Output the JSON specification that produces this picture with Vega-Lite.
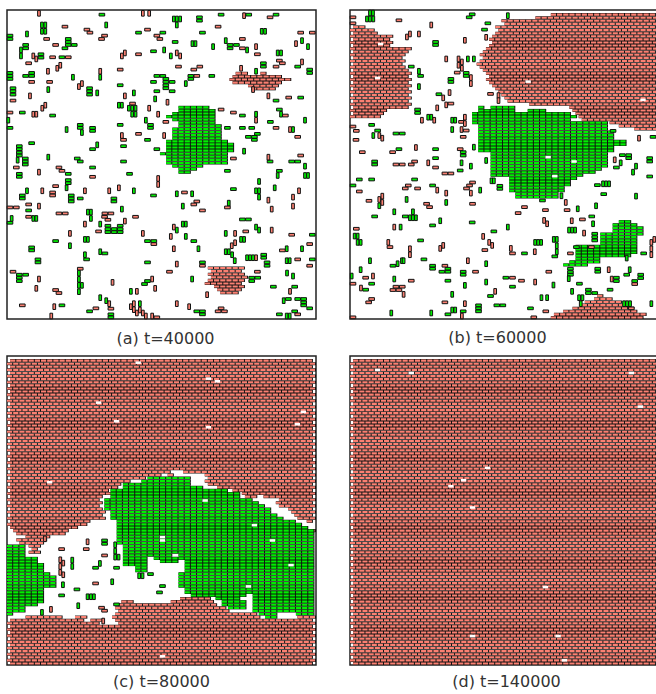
{"$schema":"https://vega.github.io/schema/vega-lite/v6.json","padding":{"left":4,"top":8,"right":0,"bottom":0},"background":"white","spacing":{"row":6,"column":28},"columns":2,"config":{"view":{"stroke":"#222","strokeWidth":1.5},"title":{"font":"DejaVu Sans","fontSize":16,"fontWeight":"normal","color":"#333","orient":"bottom"}},
"datasets":{
"aRr":[{"y":20,"a":74,"b":78},{"y":20,"a":82,"b":84},{"y":21,"a":73,"b":89},{"y":22,"a":72,"b":92},{"y":23,"a":73,"b":89},{"y":24,"a":78,"b":88},{"y":25,"a":79,"b":87},{"y":83,"a":65,"b":77},{"y":84,"a":66,"b":76},{"y":85,"a":65,"b":77},{"y":86,"a":66,"b":78},{"y":87,"a":65,"b":77},{"y":88,"a":64,"b":76},{"y":89,"a":67,"b":77},{"y":90,"a":68,"b":76},{"y":91,"a":69,"b":75}],
"aGr":[{"y":31,"a":55.5,"b":65.5},{"y":32,"a":55.5,"b":67.5},{"y":33,"a":53.5,"b":67.5},{"y":34,"a":51.5,"b":67.5},{"y":35,"a":53.5,"b":67.5},{"y":36,"a":55.5,"b":67.5},{"y":37,"a":55.5,"b":69.5},{"y":38,"a":53.5,"b":69.5},{"y":39,"a":53.5,"b":69.5},{"y":40,"a":53.5,"b":69.5},{"y":41,"a":53.5,"b":69.5},{"y":42,"a":51.5,"b":71.5},{"y":43,"a":51.5,"b":73.5},{"y":44,"a":51.5,"b":73.5},{"y":45,"a":51.5,"b":73.5},{"y":46,"a":49.5,"b":71.5},{"y":47,"a":51.5,"b":71.5},{"y":48,"a":51.5,"b":71.5},{"y":49,"a":51.5,"b":71.5},{"y":50,"a":53.5,"b":63.5},{"y":51,"a":55.5,"b":61.5},{"y":52,"a":55.5,"b":59.5}],
"bRr":[{"y":5,"a":1,"b":5},{"y":6,"a":0,"b":8},{"y":7,"a":1,"b":9},{"y":8,"a":0,"b":14},{"y":9,"a":1,"b":13},{"y":10,"a":0,"b":14},{"y":11,"a":1,"b":13},{"y":12,"a":0,"b":20},{"y":13,"a":1,"b":19},{"y":14,"a":0,"b":18},{"y":15,"a":1,"b":17},{"y":16,"a":0,"b":18},{"y":17,"a":1,"b":17},{"y":18,"a":0,"b":18},{"y":19,"a":1,"b":19},{"y":20,"a":0,"b":20},{"y":21,"a":1,"b":19},{"y":22,"a":0,"b":20},{"y":23,"a":1,"b":19},{"y":24,"a":0,"b":20},{"y":25,"a":1,"b":19},{"y":26,"a":0,"b":20},{"y":27,"a":1,"b":19},{"y":28,"a":0,"b":20},{"y":29,"a":1,"b":19},{"y":30,"a":0,"b":20},{"y":31,"a":1,"b":19},{"y":32,"a":0,"b":12},{"y":33,"a":1,"b":11},{"y":34,"a":0,"b":10},{"y":1,"a":65,"b":99},{"y":2,"a":60,"b":100},{"y":3,"a":49,"b":99},{"y":4,"a":50,"b":100},{"y":5,"a":47,"b":99},{"y":6,"a":48,"b":100},{"y":7,"a":47,"b":99},{"y":8,"a":46,"b":100},{"y":9,"a":45,"b":99},{"y":10,"a":46,"b":100},{"y":11,"a":45,"b":99},{"y":12,"a":44,"b":100},{"y":13,"a":43,"b":99},{"y":14,"a":42,"b":100},{"y":15,"a":43,"b":99},{"y":16,"a":42,"b":100},{"y":17,"a":41,"b":99},{"y":18,"a":42,"b":100},{"y":19,"a":43,"b":99},{"y":20,"a":44,"b":100},{"y":21,"a":45,"b":99},{"y":22,"a":44,"b":100},{"y":23,"a":45,"b":99},{"y":24,"a":46,"b":100},{"y":25,"a":47,"b":99},{"y":26,"a":48,"b":100},{"y":27,"a":49,"b":99},{"y":28,"a":50,"b":100},{"y":29,"a":51,"b":99},{"y":30,"a":58,"b":100},{"y":31,"a":71,"b":99},{"y":32,"a":72,"b":100},{"y":33,"a":73,"b":99},{"y":34,"a":74,"b":100},{"y":35,"a":75,"b":99},{"y":36,"a":84,"b":100},{"y":37,"a":87,"b":99},{"y":38,"a":92,"b":100},{"y":92,"a":80,"b":82},{"y":93,"a":79,"b":85},{"y":94,"a":76,"b":88},{"y":95,"a":75,"b":91},{"y":96,"a":72,"b":92},{"y":97,"a":69,"b":93},{"y":98,"a":66,"b":96},{"y":99,"a":65,"b":95}],
"bGr":[{"y":31,"a":41.5,"b":43.5},{"y":31,"a":45.5,"b":53.5},{"y":32,"a":41.5,"b":53.5},{"y":32,"a":57.5,"b":63.5},{"y":33,"a":39.5,"b":71.5},{"y":34,"a":39.5,"b":73.5},{"y":35,"a":39.5,"b":71.5},{"y":36,"a":39.5,"b":83.5},{"y":37,"a":41.5,"b":83.5},{"y":38,"a":41.5,"b":83.5},{"y":39,"a":41.5,"b":85.5},{"y":40,"a":41.5,"b":85.5},{"y":41,"a":41.5,"b":85.5},{"y":42,"a":41.5,"b":89.5},{"y":43,"a":41.5,"b":89.5},{"y":44,"a":41.5,"b":85.5},{"y":45,"a":41.5,"b":85.5},{"y":46,"a":45.5,"b":83.5},{"y":47,"a":45.5,"b":83.5},{"y":48,"a":45.5,"b":83.5},{"y":49,"a":45.5,"b":83.5},{"y":50,"a":45.5,"b":83.5},{"y":51,"a":45.5,"b":81.5},{"y":52,"a":45.5,"b":79.5},{"y":53,"a":45.5,"b":75.5},{"y":54,"a":51.5,"b":73.5},{"y":55,"a":51.5,"b":71.5},{"y":56,"a":51.5,"b":71.5},{"y":57,"a":51.5,"b":69.5},{"y":58,"a":51.5,"b":69.5},{"y":59,"a":53.5,"b":67.5},{"y":60,"a":53.5,"b":67.5},{"y":68,"a":87,"b":91},{"y":69,"a":85,"b":93},{"y":70,"a":85,"b":95},{"y":71,"a":85,"b":95},{"y":72,"a":81,"b":95},{"y":73,"a":81,"b":93},{"y":74,"a":81,"b":93},{"y":75,"a":81,"b":93},{"y":76,"a":73,"b":93},{"y":77,"a":73,"b":93},{"y":78,"a":73,"b":93},{"y":79,"a":73,"b":91},{"y":80,"a":73,"b":81},{"y":81,"a":71,"b":81},{"y":82,"a":69,"b":77}],
"cRr":[{"y":1,"a":1,"b":99},{"y":2,"a":0,"b":100},{"y":3,"a":1,"b":99},{"y":4,"a":0,"b":100},{"y":5,"a":1,"b":99},{"y":6,"a":0,"b":100},{"y":7,"a":1,"b":99},{"y":8,"a":0,"b":100},{"y":9,"a":1,"b":99},{"y":10,"a":0,"b":100},{"y":11,"a":1,"b":99},{"y":12,"a":0,"b":100},{"y":13,"a":1,"b":99},{"y":14,"a":0,"b":100},{"y":15,"a":1,"b":99},{"y":16,"a":0,"b":100},{"y":17,"a":1,"b":99},{"y":18,"a":0,"b":100},{"y":19,"a":1,"b":99},{"y":20,"a":0,"b":100},{"y":21,"a":1,"b":99},{"y":22,"a":0,"b":100},{"y":23,"a":1,"b":99},{"y":24,"a":0,"b":100},{"y":25,"a":1,"b":99},{"y":26,"a":0,"b":100},{"y":27,"a":1,"b":99},{"y":28,"a":0,"b":100},{"y":29,"a":1,"b":99},{"y":30,"a":0,"b":100},{"y":31,"a":1,"b":99},{"y":32,"a":0,"b":100},{"y":33,"a":1,"b":99},{"y":34,"a":0,"b":100},{"y":35,"a":1,"b":99},{"y":36,"a":0,"b":100},{"y":37,"a":1,"b":53},{"y":37,"a":57,"b":99},{"y":38,"a":0,"b":50},{"y":38,"a":52,"b":54},{"y":38,"a":64,"b":100},{"y":39,"a":1,"b":45},{"y":39,"a":65,"b":99},{"y":40,"a":0,"b":40},{"y":40,"a":64,"b":100},{"y":41,"a":1,"b":37},{"y":41,"a":65,"b":99},{"y":42,"a":0,"b":36},{"y":42,"a":68,"b":100},{"y":43,"a":1,"b":33},{"y":43,"a":73,"b":99},{"y":44,"a":0,"b":34},{"y":44,"a":76,"b":100},{"y":45,"a":1,"b":31},{"y":45,"a":77,"b":81},{"y":45,"a":83,"b":99},{"y":46,"a":0,"b":30},{"y":46,"a":88,"b":100},{"y":47,"a":1,"b":31},{"y":47,"a":87,"b":99},{"y":48,"a":0,"b":30},{"y":48,"a":88,"b":100},{"y":49,"a":1,"b":31},{"y":49,"a":91,"b":99},{"y":50,"a":0,"b":32},{"y":50,"a":92,"b":100},{"y":51,"a":1,"b":31},{"y":51,"a":93,"b":99},{"y":52,"a":0,"b":32},{"y":52,"a":94,"b":100},{"y":53,"a":1,"b":27},{"y":53,"a":97,"b":99},{"y":54,"a":0,"b":26},{"y":55,"a":1,"b":23},{"y":56,"a":2,"b":20},{"y":56,"a":98,"b":100},{"y":57,"a":3,"b":19},{"y":58,"a":6,"b":14},{"y":59,"a":3,"b":13},{"y":60,"a":4,"b":12},{"y":61,"a":7,"b":11},{"y":62,"a":8,"b":10},{"y":63,"a":7,"b":11},{"y":78,"a":56,"b":66},{"y":79,"a":37,"b":41},{"y":79,"a":53,"b":67},{"y":80,"a":36,"b":68},{"y":81,"a":35,"b":71},{"y":82,"a":36,"b":72},{"y":83,"a":35,"b":81},{"y":84,"a":6,"b":18},{"y":84,"a":22,"b":26},{"y":84,"a":34,"b":82},{"y":84,"a":94,"b":100},{"y":85,"a":1,"b":25},{"y":85,"a":27,"b":31},{"y":85,"a":35,"b":99},{"y":86,"a":0,"b":30},{"y":86,"a":36,"b":100},{"y":87,"a":1,"b":99},{"y":88,"a":0,"b":100},{"y":89,"a":1,"b":99},{"y":90,"a":0,"b":100},{"y":91,"a":1,"b":99},{"y":92,"a":0,"b":100},{"y":93,"a":1,"b":99},{"y":94,"a":0,"b":100},{"y":95,"a":1,"b":99},{"y":96,"a":0,"b":100},{"y":97,"a":1,"b":99},{"y":98,"a":0,"b":100},{"y":99,"a":1,"b":99}],
"cGr":[{"y":39,"a":45.5,"b":59.5},{"y":40,"a":43.5,"b":59.5},{"y":41,"a":37.5,"b":59.5},{"y":42,"a":37.5,"b":63.5},{"y":43,"a":33.5,"b":71.5},{"y":44,"a":33.5,"b":75.5},{"y":45,"a":33.5,"b":75.5},{"y":46,"a":31.5,"b":79.5},{"y":47,"a":31.5,"b":81.5},{"y":48,"a":31.5,"b":83.5},{"y":49,"a":31.5,"b":85.5},{"y":50,"a":33.5,"b":85.5},{"y":51,"a":33.5,"b":87.5},{"y":52,"a":33.5,"b":89.5},{"y":53,"a":35.5,"b":93.5},{"y":54,"a":35.5,"b":95.5},{"y":55,"a":35.5,"b":97.5},{"y":56,"a":35.5,"b":99.5},{"y":57,"a":35.5,"b":99.5},{"y":58,"a":35.5,"b":99.5},{"y":59,"a":35.5,"b":99.5},{"y":60,"a":35.5,"b":99.5},{"y":61,"a":0,"b":6},{"y":61,"a":37.5,"b":99.5},{"y":62,"a":0,"b":6},{"y":62,"a":37.5,"b":99.5},{"y":63,"a":0,"b":6},{"y":63,"a":37.5,"b":99.5},{"y":64,"a":0,"b":6},{"y":64,"a":37.5,"b":53.5},{"y":64,"a":55.5,"b":99.5},{"y":65,"a":0,"b":10},{"y":65,"a":37.5,"b":45.5},{"y":65,"a":47.5,"b":99.5},{"y":66,"a":0,"b":10},{"y":66,"a":37.5,"b":45.5},{"y":66,"a":49.5,"b":55.5},{"y":66,"a":57.5,"b":99.5},{"y":67,"a":0,"b":12},{"y":67,"a":37.5,"b":45.5},{"y":67,"a":57.5,"b":99.5},{"y":68,"a":0,"b":12},{"y":68,"a":41.5,"b":45.5},{"y":68,"a":57.5,"b":99.5},{"y":69,"a":0,"b":12},{"y":69,"a":41.5,"b":45.5},{"y":69,"a":57.5,"b":99.5},{"y":70,"a":0,"b":14},{"y":70,"a":55.5,"b":99.5},{"y":71,"a":0,"b":16},{"y":71,"a":55.5,"b":99.5},{"y":72,"a":0,"b":16},{"y":72,"a":55.5,"b":99.5},{"y":73,"a":0,"b":16},{"y":73,"a":55.5,"b":99.5},{"y":74,"a":0,"b":16},{"y":74,"a":55.5,"b":99.5},{"y":75,"a":0,"b":12},{"y":75,"a":57.5,"b":99.5},{"y":76,"a":0,"b":12},{"y":76,"a":57.5,"b":99.5},{"y":77,"a":0,"b":12},{"y":77,"a":59.5,"b":77.5},{"y":77,"a":79.5,"b":99.5},{"y":78,"a":0,"b":12},{"y":78,"a":67.5,"b":75.5},{"y":78,"a":79.5,"b":99.5},{"y":79,"a":0,"b":12},{"y":79,"a":69.5,"b":77.5},{"y":79,"a":79.5,"b":99.5},{"y":80,"a":0,"b":10},{"y":80,"a":69.5,"b":77.5},{"y":80,"a":79.5,"b":99.5},{"y":81,"a":0,"b":6},{"y":81,"a":71.5,"b":77.5},{"y":81,"a":79.5,"b":99.5},{"y":82,"a":0,"b":6},{"y":82,"a":79.5,"b":99.5},{"y":83,"a":0,"b":2},{"y":83,"a":81.5,"b":87.5},{"y":83,"a":93.5,"b":99.5},{"y":84,"a":83.5,"b":87.5}],
"dRr":[{"y":1,"a":1,"b":99},{"y":2,"a":0,"b":100},{"y":3,"a":1,"b":99},{"y":4,"a":0,"b":100},{"y":5,"a":1,"b":99},{"y":6,"a":0,"b":100},{"y":7,"a":1,"b":99},{"y":8,"a":0,"b":100},{"y":9,"a":1,"b":99},{"y":10,"a":0,"b":100},{"y":11,"a":1,"b":99},{"y":12,"a":0,"b":100},{"y":13,"a":1,"b":99},{"y":14,"a":0,"b":100},{"y":15,"a":1,"b":99},{"y":16,"a":0,"b":100},{"y":17,"a":1,"b":99},{"y":18,"a":0,"b":100},{"y":19,"a":1,"b":99},{"y":20,"a":0,"b":100},{"y":21,"a":1,"b":99},{"y":22,"a":0,"b":100},{"y":23,"a":1,"b":99},{"y":24,"a":0,"b":100},{"y":25,"a":1,"b":99},{"y":26,"a":0,"b":100},{"y":27,"a":1,"b":99},{"y":28,"a":0,"b":100},{"y":29,"a":1,"b":99},{"y":30,"a":0,"b":100},{"y":31,"a":1,"b":99},{"y":32,"a":0,"b":100},{"y":33,"a":1,"b":99},{"y":34,"a":0,"b":100},{"y":35,"a":1,"b":99},{"y":36,"a":0,"b":100},{"y":37,"a":1,"b":99},{"y":38,"a":0,"b":100},{"y":39,"a":1,"b":99},{"y":40,"a":0,"b":100},{"y":41,"a":1,"b":99},{"y":42,"a":0,"b":100},{"y":43,"a":1,"b":99},{"y":44,"a":0,"b":100},{"y":45,"a":1,"b":99},{"y":46,"a":0,"b":100},{"y":47,"a":1,"b":99},{"y":48,"a":0,"b":100},{"y":49,"a":1,"b":99},{"y":50,"a":0,"b":100},{"y":51,"a":1,"b":99},{"y":52,"a":0,"b":100},{"y":53,"a":1,"b":99},{"y":54,"a":0,"b":100},{"y":55,"a":1,"b":99},{"y":56,"a":0,"b":100},{"y":57,"a":1,"b":99},{"y":58,"a":0,"b":100},{"y":59,"a":1,"b":99},{"y":60,"a":0,"b":100},{"y":61,"a":1,"b":99},{"y":62,"a":0,"b":100},{"y":63,"a":1,"b":99},{"y":64,"a":0,"b":100},{"y":65,"a":1,"b":99},{"y":66,"a":0,"b":100},{"y":67,"a":1,"b":99},{"y":68,"a":0,"b":100},{"y":69,"a":1,"b":99},{"y":70,"a":0,"b":100},{"y":71,"a":1,"b":99},{"y":72,"a":0,"b":100},{"y":73,"a":1,"b":99},{"y":74,"a":0,"b":100},{"y":75,"a":1,"b":99},{"y":76,"a":0,"b":100},{"y":77,"a":1,"b":99},{"y":78,"a":0,"b":100},{"y":79,"a":1,"b":99},{"y":80,"a":0,"b":100},{"y":81,"a":1,"b":99},{"y":82,"a":0,"b":100},{"y":83,"a":1,"b":99},{"y":84,"a":0,"b":100},{"y":85,"a":1,"b":99},{"y":86,"a":0,"b":100},{"y":87,"a":1,"b":99},{"y":88,"a":0,"b":100},{"y":89,"a":1,"b":99},{"y":90,"a":0,"b":100},{"y":91,"a":1,"b":99},{"y":92,"a":0,"b":100},{"y":93,"a":1,"b":99},{"y":94,"a":0,"b":100},{"y":95,"a":1,"b":99},{"y":96,"a":0,"b":100},{"y":97,"a":1,"b":99},{"y":98,"a":0,"b":100},{"y":99,"a":1,"b":99}],
"aG":[{"x":305,"y":42},{"x":598,"y":50},{"x":598,"y":60},{"x":663,"y":42},{"x":746,"y":42},{"x":828,"y":42},{"x":415,"y":96},{"x":488,"y":96},{"x":607,"y":96},{"x":29,"y":105},{"x":29,"y":115},{"x":204,"y":115},{"x":204,"y":124},{"x":204,"y":133},{"x":222,"y":133},{"x":194,"y":143},{"x":76,"y":133},{"x":76,"y":143},{"x":525,"y":124},{"x":690,"y":133},{"x":690,"y":143},{"x":709,"y":133},{"x":122,"y":161},{"x":122,"y":171},{"x":185,"y":170},{"x":460,"y":152},{"x":790,"y":188},{"x":790,"y":198},{"x":893,"y":198},{"x":29,"y":217},{"x":29,"y":226},{"x":29,"y":235},{"x":94,"y":217},{"x":94,"y":226},{"x":76,"y":226},{"x":470,"y":226},{"x":488,"y":226},{"x":497,"y":235},{"x":497,"y":244},{"x":516,"y":244},{"x":497,"y":254},{"x":497,"y":263},{"x":470,"y":272},{"x":516,"y":272},{"x":572,"y":226},{"x":572,"y":235},{"x":635,"y":226},{"x":460,"y":244},{"x":929,"y":207},{"x":929,"y":217},{"x":360,"y":254},{"x":268,"y":263},{"x":268,"y":272},{"x":268,"y":282},{"x":38,"y":263},{"x":38,"y":272},{"x":38,"y":282},{"x":902,"y":291},{"x":828,"y":300},{"x":66,"y":336},{"x":157,"y":345},{"x":727,"y":345},{"x":838,"y":327},{"x":29,"y":382},{"x":360,"y":373},{"x":240,"y":373},{"x":240,"y":382},{"x":277,"y":382},{"x":277,"y":391},{"x":451,"y":373},{"x":451,"y":382},{"x":811,"y":364},{"x":682,"y":382},{"x":727,"y":382},{"x":755,"y":382},{"x":442,"y":418},{"x":745,"y":409},{"x":772,"y":400},{"x":763,"y":409},{"x":763,"y":418},{"x":94,"y":428},{"x":370,"y":437},{"x":277,"y":446},{"x":470,"y":446},{"x":57,"y":437},{"x":57,"y":446},{"x":57,"y":456},{"x":57,"y":465},{"x":75,"y":474},{"x":75,"y":483},{"x":75,"y":492},{"x":231,"y":474},{"x":240,"y":483},{"x":810,"y":483},{"x":370,"y":483},{"x":875,"y":483},{"x":893,"y":483},{"x":204,"y":520},{"x":277,"y":501},{"x":57,"y":520},{"x":57,"y":529},{"x":388,"y":520},{"x":682,"y":511},{"x":838,"y":511},{"x":204,"y":539},{"x":204,"y":548},{"x":700,"y":566},{"x":66,"y":585},{"x":66,"y":594},{"x":213,"y":585},{"x":213,"y":594},{"x":213,"y":603},{"x":240,"y":594},{"x":341,"y":594},{"x":341,"y":603},{"x":460,"y":585},{"x":85,"y":630},{"x":29,"y":667},{"x":727,"y":657},{"x":745,"y":657},{"x":323,"y":676},{"x":323,"y":686},{"x":323,"y":695},{"x":342,"y":686},{"x":342,"y":695},{"x":360,"y":676},{"x":360,"y":686},{"x":360,"y":695},{"x":937,"y":703},{"x":166,"y":722},{"x":442,"y":722},{"x":461,"y":722},{"x":581,"y":722},{"x":94,"y":741},{"x":94,"y":750},{"x":314,"y":759},{"x":259,"y":777},{"x":791,"y":763},{"x":791,"y":772},{"x":937,"y":777},{"x":113,"y":777},{"x":113,"y":786},{"x":442,"y":786},{"x":607,"y":786},{"x":801,"y":786},{"x":801,"y":796},{"x":57,"y":823},{"x":57,"y":832},{"x":57,"y":842},{"x":76,"y":823},{"x":442,"y":842},{"x":433,"y":851},{"x":755,"y":832},{"x":755,"y":842},{"x":773,"y":832},{"x":820,"y":859},{"x":884,"y":859},{"x":865,"y":896},{"x":893,"y":896},{"x":911,"y":896},{"x":911,"y":906},{"x":911,"y":915},{"x":929,"y":924},{"x":185,"y":915},{"x":268,"y":933},{"x":332,"y":942},{"x":332,"y":951},{"x":590,"y":933},{"x":607,"y":933},{"x":607,"y":942},{"x":838,"y":942},{"x":884,"y":933}],
"ag":[{"x":521,"y":55},{"x":530,"y":55},{"x":540,"y":55},{"x":530,"y":73},{"x":125,"y":73},{"x":135,"y":73},{"x":125,"y":92},{"x":135,"y":92},{"x":318,"y":73},{"x":785,"y":92},{"x":795,"y":92},{"x":80,"y":100},{"x":62,"y":148},{"x":62,"y":166},{"x":577,"y":129},{"x":586,"y":129},{"x":639,"y":138},{"x":677,"y":120},{"x":741,"y":148},{"x":906,"y":120},{"x":924,"y":138},{"x":492,"y":148},{"x":512,"y":166},{"x":833,"y":157},{"x":843,"y":157},{"x":218,"y":230},{"x":300,"y":230},{"x":557,"y":249},{"x":768,"y":212},{"x":144,"y":267},{"x":291,"y":277},{"x":401,"y":277},{"x":465,"y":295},{"x":356,"y":314},{"x":365,"y":314},{"x":386,"y":323},{"x":396,"y":323},{"x":406,"y":323},{"x":406,"y":341},{"x":396,"y":341},{"x":768,"y":341},{"x":843,"y":341},{"x":24,"y":359},{"x":437,"y":359},{"x":199,"y":387},{"x":245,"y":396},{"x":879,"y":387},{"x":915,"y":359},{"x":291,"y":433},{"x":732,"y":452},{"x":52,"y":479},{"x":144,"y":470},{"x":915,"y":497},{"x":833,"y":525},{"x":915,"y":525},{"x":924,"y":525},{"x":199,"y":562},{"x":777,"y":543},{"x":401,"y":571},{"x":824,"y":562},{"x":768,"y":571},{"x":777,"y":571},{"x":777,"y":590},{"x":80,"y":571},{"x":530,"y":580},{"x":576,"y":580},{"x":686,"y":608},{"x":548,"y":617},{"x":365,"y":626},{"x":263,"y":635},{"x":272,"y":635},{"x":272,"y":654},{"x":99,"y":654},{"x":108,"y":654},{"x":34,"y":654},{"x":300,"y":671},{"x":548,"y":671},{"x":557,"y":671},{"x":530,"y":689},{"x":677,"y":699},{"x":768,"y":680},{"x":777,"y":689},{"x":557,"y":708},{"x":254,"y":717},{"x":263,"y":717},{"x":723,"y":717},{"x":732,"y":717},{"x":209,"y":736},{"x":595,"y":745},{"x":677,"y":754},{"x":686,"y":754},{"x":860,"y":745},{"x":906,"y":745},{"x":300,"y":754},{"x":254,"y":763},{"x":696,"y":763},{"x":741,"y":772},{"x":750,"y":772},{"x":759,"y":772},{"x":860,"y":781},{"x":869,"y":781},{"x":704,"y":781},{"x":861,"y":818},{"x":879,"y":827},{"x":236,"y":818},{"x":236,"y":837},{"x":236,"y":855},{"x":245,"y":855},{"x":236,"y":874},{"x":576,"y":836},{"x":392,"y":873},{"x":300,"y":892},{"x":318,"y":901},{"x":851,"y":901},{"x":419,"y":910},{"x":860,"y":947},{"x":869,"y":947}],
"aR":[{"x":810,"y":50},{"x":194,"y":78},{"x":654,"y":78},{"x":260,"y":87},{"x":269,"y":96},{"x":442,"y":87},{"x":470,"y":105},{"x":479,"y":115},{"x":902,"y":96},{"x":937,"y":96},{"x":313,"y":105},{"x":304,"y":115},{"x":139,"y":115},{"x":166,"y":133},{"x":727,"y":115},{"x":727,"y":143},{"x":157,"y":170},{"x":204,"y":170},{"x":85,"y":188},{"x":415,"y":161},{"x":772,"y":161},{"x":838,"y":180},{"x":847,"y":188},{"x":535,"y":198},{"x":599,"y":198},{"x":581,"y":207},{"x":828,"y":198},{"x":360,"y":207},{"x":590,"y":226},{"x":94,"y":244},{"x":148,"y":244},{"x":38,"y":300},{"x":866,"y":291},{"x":397,"y":309},{"x":29,"y":336},{"x":663,"y":327},{"x":700,"y":336},{"x":856,"y":345},{"x":497,"y":364},{"x":828,"y":382},{"x":893,"y":409},{"x":415,"y":400},{"x":370,"y":418},{"x":902,"y":465},{"x":700,"y":474},{"x":48,"y":501},{"x":176,"y":501},{"x":185,"y":511},{"x":277,"y":529},{"x":166,"y":557},{"x":157,"y":576},{"x":157,"y":585},{"x":553,"y":576},{"x":590,"y":603},{"x":581,"y":612},{"x":682,"y":621},{"x":85,"y":612},{"x":29,"y":621},{"x":48,"y":621},{"x":607,"y":630},{"x":176,"y":639},{"x":195,"y":639},{"x":85,"y":649},{"x":332,"y":639},{"x":314,"y":639},{"x":313,"y":649},{"x":323,"y":658},{"x":406,"y":649},{"x":295,"y":693},{"x":737,"y":693},{"x":875,"y":703},{"x":461,"y":731},{"x":929,"y":731},{"x":847,"y":750},{"x":893,"y":777},{"x":607,"y":796},{"x":929,"y":796},{"x":240,"y":805},{"x":38,"y":814},{"x":508,"y":814},{"x":772,"y":814},{"x":166,"y":869},{"x":176,"y":878},{"x":332,"y":925},{"x":287,"y":924},{"x":66,"y":915},{"x":470,"y":951},{"x":663,"y":924},{"x":654,"y":933},{"x":673,"y":933},{"x":893,"y":942}],
"ar":[{"x":116,"y":38},{"x":428,"y":38},{"x":447,"y":38},{"x":732,"y":45},{"x":768,"y":138},{"x":888,"y":129},{"x":99,"y":166},{"x":108,"y":175},{"x":374,"y":157},{"x":365,"y":166},{"x":530,"y":157},{"x":540,"y":166},{"x":906,"y":184},{"x":180,"y":194},{"x":171,"y":203},{"x":143,"y":212},{"x":300,"y":212},{"x":245,"y":249},{"x":236,"y":258},{"x":89,"y":286},{"x":374,"y":286},{"x":502,"y":305},{"x":805,"y":286},{"x":135,"y":314},{"x":126,"y":323},{"x":447,"y":323},{"x":99,"y":341},{"x":108,"y":341},{"x":474,"y":341},{"x":768,"y":359},{"x":870,"y":387},{"x":365,"y":405},{"x":492,"y":405},{"x":805,"y":470},{"x":116,"y":515},{"x":474,"y":534},{"x":474,"y":552},{"x":356,"y":562},{"x":897,"y":571},{"x":126,"y":571},{"x":254,"y":571},{"x":327,"y":571},{"x":879,"y":590},{"x":805,"y":599},{"x":116,"y":617},{"x":879,"y":617},{"x":815,"y":626},{"x":374,"y":662},{"x":254,"y":671},{"x":521,"y":680},{"x":209,"y":699},{"x":428,"y":699},{"x":705,"y":699},{"x":815,"y":689},{"x":512,"y":708},{"x":705,"y":727},{"x":695,"y":736},{"x":521,"y":745},{"x":768,"y":772},{"x":530,"y":791},{"x":116,"y":836},{"x":337,"y":846},{"x":456,"y":836},{"x":108,"y":864},{"x":465,"y":864},{"x":870,"y":873},{"x":410,"y":873},{"x":621,"y":883},{"x":327,"y":910},{"x":162,"y":919},{"x":530,"y":910},{"x":567,"y":919},{"x":392,"y":919},{"x":401,"y":910},{"x":401,"y":928},{"x":419,"y":929},{"x":410,"y":938},{"x":428,"y":938},{"x":437,"y":947},{"x":456,"y":947},{"x":153,"y":947},{"x":723,"y":203},{"x":759,"y":267}],
"bG":[{"x":432,"y":41},{"x":423,"y":50},{"x":479,"y":68},{"x":469,"y":87},{"x":322,"y":124},{"x":322,"y":133},{"x":414,"y":217},{"x":414,"y":226},{"x":249,"y":198},{"x":277,"y":226},{"x":368,"y":235},{"x":368,"y":244},{"x":332,"y":281},{"x":268,"y":327},{"x":268,"y":337},{"x":130,"y":373},{"x":148,"y":390},{"x":203,"y":399},{"x":222,"y":399},{"x":322,"y":446},{"x":212,"y":446},{"x":405,"y":455},{"x":405,"y":465},{"x":322,"y":473},{"x":139,"y":483},{"x":139,"y":492},{"x":396,"y":510},{"x":93,"y":537},{"x":130,"y":537},{"x":259,"y":537},{"x":74,"y":555},{"x":313,"y":555},{"x":515,"y":556},{"x":515,"y":565},{"x":808,"y":554},{"x":827,"y":581},{"x":643,"y":600},{"x":231,"y":648},{"x":139,"y":648},{"x":313,"y":675},{"x":432,"y":666},{"x":497,"y":693},{"x":791,"y":648},{"x":277,"y":720},{"x":589,"y":759},{"x":680,"y":768},{"x":745,"y":740},{"x":287,"y":777},{"x":194,"y":796},{"x":313,"y":796},{"x":313,"y":805},{"x":359,"y":805},{"x":359,"y":814},{"x":341,"y":814},{"x":405,"y":814},{"x":405,"y":823},{"x":809,"y":805},{"x":809,"y":814},{"x":359,"y":841},{"x":533,"y":832},{"x":553,"y":859},{"x":754,"y":850},{"x":130,"y":850},{"x":112,"y":868},{"x":487,"y":887},{"x":846,"y":868},{"x":781,"y":868},{"x":781,"y":878},{"x":800,"y":878},{"x":451,"y":915},{"x":451,"y":924},{"x":451,"y":933},{"x":506,"y":915},{"x":524,"y":915},{"x":607,"y":924},{"x":359,"y":942},{"x":405,"y":933},{"x":896,"y":823},{"x":938,"y":823},{"x":938,"y":833},{"x":920,"y":842},{"x":865,"y":832},{"x":865,"y":842},{"x":947,"y":759},{"x":975,"y":409},{"x":855,"y":391},{"x":883,"y":464},{"x":902,"y":464},{"x":902,"y":473},{"x":865,"y":501},{"x":965,"y":473},{"x":965,"y":483},{"x":965,"y":528},{"x":800,"y":700},{"x":800,"y":710},{"x":800,"y":720},{"x":727,"y":805},{"x":727,"y":815},{"x":727,"y":823}],
"bg":[{"x":125,"y":37},{"x":134,"y":37},{"x":116,"y":55},{"x":125,"y":55},{"x":135,"y":55},{"x":539,"y":45},{"x":419,"y":175},{"x":437,"y":175},{"x":272,"y":212},{"x":272,"y":258},{"x":300,"y":350},{"x":309,"y":350},{"x":372,"y":359},{"x":381,"y":359},{"x":372,"y":387},{"x":135,"y":405},{"x":437,"y":440},{"x":474,"y":480},{"x":490,"y":541},{"x":497,"y":541},{"x":400,"y":487},{"x":428,"y":497},{"x":456,"y":569},{"x":700,"y":586},{"x":825,"y":550},{"x":834,"y":550},{"x":843,"y":550},{"x":235,"y":597},{"x":153,"y":616},{"x":354,"y":606},{"x":198,"y":634},{"x":254,"y":634},{"x":245,"y":652},{"x":254,"y":652},{"x":263,"y":652},{"x":336,"y":661},{"x":217,"y":680},{"x":539,"y":680},{"x":749,"y":625},{"x":804,"y":616},{"x":795,"y":670},{"x":723,"y":689},{"x":732,"y":689},{"x":741,"y":689},{"x":79,"y":707},{"x":88,"y":707},{"x":88,"y":726},{"x":97,"y":726},{"x":621,"y":726},{"x":630,"y":726},{"x":639,"y":726},{"x":677,"y":717},{"x":686,"y":717},{"x":686,"y":736},{"x":686,"y":754},{"x":125,"y":781},{"x":221,"y":781},{"x":226,"y":781},{"x":208,"y":790},{"x":474,"y":790},{"x":97,"y":808},{"x":70,"y":827},{"x":198,"y":836},{"x":410,"y":855},{"x":474,"y":845},{"x":676,"y":854},{"x":372,"y":882},{"x":640,"y":892},{"x":657,"y":892},{"x":732,"y":873},{"x":753,"y":892},{"x":763,"y":892},{"x":758,"y":910},{"x":189,"y":938},{"x":309,"y":938},{"x":372,"y":929},{"x":381,"y":929},{"x":970,"y":910},{"x":888,"y":910},{"x":897,"y":910},{"x":906,"y":910},{"x":905,"y":808},{"x":896,"y":773},{"x":878,"y":487},{"x":924,"y":497},{"x":915,"y":515},{"x":924,"y":587},{"x":722,"y":835}],
"bR":[{"x":74,"y":50},{"x":74,"y":68},{"x":212,"y":59},{"x":387,"y":216},{"x":368,"y":309},{"x":487,"y":280},{"x":400,"y":364},{"x":414,"y":390},{"x":405,"y":409},{"x":84,"y":391},{"x":83,"y":418},{"x":193,"y":455},{"x":102,"y":455},{"x":396,"y":446},{"x":203,"y":492},{"x":222,"y":492},{"x":259,"y":483},{"x":249,"y":492},{"x":322,"y":501},{"x":350,"y":519},{"x":368,"y":519},{"x":433,"y":546},{"x":424,"y":555},{"x":240,"y":555},{"x":231,"y":564},{"x":268,"y":564},{"x":415,"y":564},{"x":93,"y":573},{"x":122,"y":601},{"x":295,"y":610},{"x":304,"y":620},{"x":433,"y":610},{"x":84,"y":685},{"x":570,"y":638},{"x":589,"y":620},{"x":652,"y":629},{"x":717,"y":629},{"x":763,"y":657},{"x":185,"y":740},{"x":470,"y":749},{"x":553,"y":759},{"x":727,"y":759},{"x":790,"y":740},{"x":350,"y":796},{"x":442,"y":814},{"x":662,"y":814},{"x":249,"y":841},{"x":112,"y":832},{"x":553,"y":832},{"x":580,"y":841},{"x":74,"y":850},{"x":203,"y":859},{"x":222,"y":859},{"x":194,"y":869},{"x":212,"y":869},{"x":130,"y":896},{"x":121,"y":906},{"x":350,"y":906},{"x":653,"y":933},{"x":910,"y":924},{"x":920,"y":851},{"x":617,"y":951},{"x":74,"y":951},{"x":74,"y":378}],
"br":[{"x":309,"y":73},{"x":245,"y":100},{"x":236,"y":109},{"x":272,"y":100},{"x":410,"y":119},{"x":474,"y":110},{"x":354,"y":175},{"x":391,"y":175},{"x":401,"y":184},{"x":391,"y":194},{"x":401,"y":203},{"x":428,"y":231},{"x":428,"y":249},{"x":364,"y":276},{"x":345,"y":292},{"x":354,"y":313},{"x":327,"y":322},{"x":281,"y":359},{"x":318,"y":359},{"x":410,"y":350},{"x":410,"y":369},{"x":400,"y":387},{"x":153,"y":405},{"x":162,"y":413},{"x":511,"y":285},{"x":511,"y":300},{"x":263,"y":441},{"x":300,"y":487},{"x":327,"y":569},{"x":428,"y":578},{"x":354,"y":578},{"x":162,"y":587},{"x":153,"y":597},{"x":162,"y":606},{"x":713,"y":606},{"x":648,"y":660},{"x":657,"y":670},{"x":731,"y":661},{"x":198,"y":680},{"x":768,"y":698},{"x":180,"y":726},{"x":345,"y":735},{"x":336,"y":744},{"x":245,"y":745},{"x":245,"y":763},{"x":465,"y":708},{"x":483,"y":726},{"x":492,"y":735},{"x":548,"y":744},{"x":620,"y":754},{"x":419,"y":781},{"x":842,"y":808},{"x":134,"y":827},{"x":621,"y":845},{"x":98,"y":863},{"x":226,"y":882},{"x":501,"y":873},{"x":410,"y":910},{"x":401,"y":947},{"x":851,"y":836},{"x":970,"y":726},{"x":970,"y":745},{"x":970,"y":763},{"x":979,"y":717},{"x":933,"y":413},{"x":860,"y":478}],
"cG":[{"x":313,"y":582},{"x":313,"y":592},{"x":286,"y":664},{"x":349,"y":664},{"x":451,"y":683},{"x":487,"y":719},{"x":230,"y":729},{"x":478,"y":738},{"x":184,"y":747},{"x":349,"y":774}],
"cg":[{"x":345,"y":595},{"x":345,"y":614},{"x":355,"y":632},{"x":345,"y":632},{"x":216,"y":641},{"x":216,"y":660},{"x":299,"y":651},{"x":188,"y":715},{"x":336,"y":706},{"x":417,"y":688},{"x":427,"y":688},{"x":262,"y":751},{"x":272,"y":751},{"x":281,"y":751},{"x":234,"y":778},{"x":125,"y":798}],
"cR":[{"x":184,"y":608},{"x":258,"y":608},{"x":313,"y":627},{"x":286,"y":711},{"x":304,"y":784},{"x":313,"y":793}],
"cr":[{"x":134,"y":577},{"x":262,"y":586},{"x":189,"y":650},{"x":180,"y":640},{"x":180,"y":660},{"x":189,"y":685},{"x":180,"y":678},{"x":152,"y":789},{"x":309,"y":824}],
"bH":[{"x":148,"y":232},{"x":157,"y":130},{"x":600,"y":243},{"x":945,"y":298},{"x":660,"y":470},{"x":738,"y":483},{"x":680,"y":527}],
"cH":[{"x":414,"y":48},{"x":625,"y":96},{"x":652,"y":104},{"x":295,"y":168},{"x":349,"y":224},{"x":910,"y":196},{"x":892,"y":233},{"x":625,"y":242},{"x":148,"y":407},{"x":487,"y":930},{"x":615,"y":462},{"x":763,"y":536},{"x":817,"y":582},{"x":873,"y":656},{"x":745,"y":720},{"x":487,"y":572},{"x":487,"y":582}],
"dH":[{"x":148,"y":70},{"x":249,"y":79},{"x":910,"y":79},{"x":937,"y":180},{"x":478,"y":364},{"x":406,"y":401},{"x":368,"y":419},{"x":433,"y":483},{"x":652,"y":722},{"x":433,"y":869},{"x":690,"y":869},{"x":709,"y":942}]
},
"concat":[
{"width":309,"height":309,"title":{"text":"(a) t=40000","offset":12,"dx":4},"resolve":{"scale":{"x":"independent","y":"independent"}},"layer":[
{"data":{"name":"aRr"},"mark":{"type":"rule","stroke":"#111","strokeWidth":3.1},"encoding":{"x":{"field":"a","type":"quantitative","scale":{"domain":[0,100],"nice":false},"axis":null},"x2":{"field":"b"},"y":{"field":"y","type":"quantitative","scale":{"domain":[99.5,-0.5],"nice":false},"axis":null}}},
{"data":{"name":"aRr"},"mark":{"type":"rule","stroke":"#fb8072","strokeWidth":2.1,"strokeDash":[5.2,0.98]},"encoding":{"x":{"field":"a","type":"quantitative","scale":{"domain":[0,100],"nice":false},"axis":null},"x2":{"field":"b"},"y":{"field":"y","type":"quantitative","scale":{"domain":[99.5,-0.5],"nice":false},"axis":null}}},
{"data":{"name":"aGr"},"mark":{"type":"rule","stroke":"#111","strokeWidth":3.1},"encoding":{"x":{"field":"a","type":"quantitative","scale":{"domain":[0,100],"nice":false},"axis":null},"x2":{"field":"b"},"y":{"field":"y","type":"quantitative","scale":{"domain":[99.5,-0.5],"nice":false},"axis":null}}},
{"data":{"name":"aGr"},"mark":{"type":"rule","stroke":"#00f000","strokeWidth":2.1,"strokeDash":[5.2,0.98]},"encoding":{"x":{"field":"a","type":"quantitative","scale":{"domain":[0,100],"nice":false},"axis":null},"x2":{"field":"b"},"y":{"field":"y","type":"quantitative","scale":{"domain":[99.5,-0.5],"nice":false},"axis":null}}},
{"data":{"name":"aG"},"mark":{"type":"rect","fill":"#00f000","stroke":"#111","strokeWidth":1,"width":5.6,"height":2.7},"encoding":{"x":{"field":"x","type":"quantitative","scale":{"domain":[20,948],"nice":false},"axis":null},"y":{"field":"y","type":"quantitative","scale":{"domain":[956,28],"nice":false},"axis":null}}},
{"data":{"name":"ag"},"mark":{"type":"rect","fill":"#00f000","stroke":"#111","strokeWidth":1,"width":2.7,"height":5.6},"encoding":{"x":{"field":"x","type":"quantitative","scale":{"domain":[20,948],"nice":false},"axis":null},"y":{"field":"y","type":"quantitative","scale":{"domain":[956,28],"nice":false},"axis":null}}},
{"data":{"name":"aR"},"mark":{"type":"rect","fill":"#fb8072","stroke":"#111","strokeWidth":1,"width":5.6,"height":2.7},"encoding":{"x":{"field":"x","type":"quantitative","scale":{"domain":[20,948],"nice":false},"axis":null},"y":{"field":"y","type":"quantitative","scale":{"domain":[956,28],"nice":false},"axis":null}}},
{"data":{"name":"ar"},"mark":{"type":"rect","fill":"#fb8072","stroke":"#111","strokeWidth":1,"width":2.7,"height":5.6},"encoding":{"x":{"field":"x","type":"quantitative","scale":{"domain":[20,948],"nice":false},"axis":null},"y":{"field":"y","type":"quantitative","scale":{"domain":[956,28],"nice":false},"axis":null}}}
]},
{"width":309,"height":309,"title":{"text":"(b) t=60000","offset":11,"dx":-7},"resolve":{"scale":{"x":"independent","y":"independent"}},"layer":[
{"data":{"name":"bRr"},"mark":{"type":"rule","stroke":"#111","strokeWidth":3.1},"encoding":{"x":{"field":"a","type":"quantitative","scale":{"domain":[0,100],"nice":false},"axis":null},"x2":{"field":"b"},"y":{"field":"y","type":"quantitative","scale":{"domain":[99.5,-0.5],"nice":false},"axis":null}}},
{"data":{"name":"bRr"},"mark":{"type":"rule","stroke":"#fb8072","strokeWidth":2.1,"strokeDash":[5.2,0.98]},"encoding":{"x":{"field":"a","type":"quantitative","scale":{"domain":[0,100],"nice":false},"axis":null},"x2":{"field":"b"},"y":{"field":"y","type":"quantitative","scale":{"domain":[99.5,-0.5],"nice":false},"axis":null}}},
{"data":{"name":"bGr"},"mark":{"type":"rule","stroke":"#111","strokeWidth":3.1},"encoding":{"x":{"field":"a","type":"quantitative","scale":{"domain":[0,100],"nice":false},"axis":null},"x2":{"field":"b"},"y":{"field":"y","type":"quantitative","scale":{"domain":[99.5,-0.5],"nice":false},"axis":null}}},
{"data":{"name":"bGr"},"mark":{"type":"rule","stroke":"#00f000","strokeWidth":2.1,"strokeDash":[5.2,0.98]},"encoding":{"x":{"field":"a","type":"quantitative","scale":{"domain":[0,100],"nice":false},"axis":null},"x2":{"field":"b"},"y":{"field":"y","type":"quantitative","scale":{"domain":[99.5,-0.5],"nice":false},"axis":null}}},
{"data":{"name":"bH"},"mark":{"type":"rect","fill":"white","width":5.4,"height":2.6},"encoding":{"x":{"field":"x","type":"quantitative","scale":{"domain":[65,993],"nice":false},"axis":null},"y":{"field":"y","type":"quantitative","scale":{"domain":[956,28],"nice":false},"axis":null}}},
{"data":{"name":"bG"},"mark":{"type":"rect","fill":"#00f000","stroke":"#111","strokeWidth":1,"width":5.6,"height":2.7},"encoding":{"x":{"field":"x","type":"quantitative","scale":{"domain":[65,993],"nice":false},"axis":null},"y":{"field":"y","type":"quantitative","scale":{"domain":[956,28],"nice":false},"axis":null}}},
{"data":{"name":"bg"},"mark":{"type":"rect","fill":"#00f000","stroke":"#111","strokeWidth":1,"width":2.7,"height":5.6},"encoding":{"x":{"field":"x","type":"quantitative","scale":{"domain":[65,993],"nice":false},"axis":null},"y":{"field":"y","type":"quantitative","scale":{"domain":[956,28],"nice":false},"axis":null}}},
{"data":{"name":"bR"},"mark":{"type":"rect","fill":"#fb8072","stroke":"#111","strokeWidth":1,"width":5.6,"height":2.7},"encoding":{"x":{"field":"x","type":"quantitative","scale":{"domain":[65,993],"nice":false},"axis":null},"y":{"field":"y","type":"quantitative","scale":{"domain":[956,28],"nice":false},"axis":null}}},
{"data":{"name":"br"},"mark":{"type":"rect","fill":"#fb8072","stroke":"#111","strokeWidth":1,"width":2.7,"height":5.6},"encoding":{"x":{"field":"x","type":"quantitative","scale":{"domain":[65,993],"nice":false},"axis":null},"y":{"field":"y","type":"quantitative","scale":{"domain":[956,28],"nice":false},"axis":null}}}
]},
{"width":309,"height":309,"title":{"text":"(c) t=80000","offset":9},"resolve":{"scale":{"x":"independent","y":"independent"}},"layer":[
{"data":{"name":"cRr"},"mark":{"type":"rule","stroke":"#111","strokeWidth":3.1},"encoding":{"x":{"field":"a","type":"quantitative","scale":{"domain":[0,100],"nice":false},"axis":null},"x2":{"field":"b"},"y":{"field":"y","type":"quantitative","scale":{"domain":[99.5,-0.5],"nice":false},"axis":null}}},
{"data":{"name":"cRr"},"mark":{"type":"rule","stroke":"#fb8072","strokeWidth":2.1,"strokeDash":[5.2,0.98]},"encoding":{"x":{"field":"a","type":"quantitative","scale":{"domain":[0,100],"nice":false},"axis":null},"x2":{"field":"b"},"y":{"field":"y","type":"quantitative","scale":{"domain":[99.5,-0.5],"nice":false},"axis":null}}},
{"data":{"name":"cGr"},"mark":{"type":"rule","stroke":"#111","strokeWidth":3.1},"encoding":{"x":{"field":"a","type":"quantitative","scale":{"domain":[0,100],"nice":false},"axis":null},"x2":{"field":"b"},"y":{"field":"y","type":"quantitative","scale":{"domain":[99.5,-0.5],"nice":false},"axis":null}}},
{"data":{"name":"cGr"},"mark":{"type":"rule","stroke":"#00f000","strokeWidth":2.1,"strokeDash":[5.2,0.98]},"encoding":{"x":{"field":"a","type":"quantitative","scale":{"domain":[0,100],"nice":false},"axis":null},"x2":{"field":"b"},"y":{"field":"y","type":"quantitative","scale":{"domain":[99.5,-0.5],"nice":false},"axis":null}}},
{"data":{"name":"cH"},"mark":{"type":"rect","fill":"white","width":5.4,"height":2.6},"encoding":{"x":{"field":"x","type":"quantitative","scale":{"domain":[20,948],"nice":false},"axis":null},"y":{"field":"y","type":"quantitative","scale":{"domain":[956,28],"nice":false},"axis":null}}},
{"data":{"name":"cG"},"mark":{"type":"rect","fill":"#00f000","stroke":"#111","strokeWidth":1,"width":5.6,"height":2.7},"encoding":{"x":{"field":"x","type":"quantitative","scale":{"domain":[20,948],"nice":false},"axis":null},"y":{"field":"y","type":"quantitative","scale":{"domain":[956,28],"nice":false},"axis":null}}},
{"data":{"name":"cg"},"mark":{"type":"rect","fill":"#00f000","stroke":"#111","strokeWidth":1,"width":2.7,"height":5.6},"encoding":{"x":{"field":"x","type":"quantitative","scale":{"domain":[20,948],"nice":false},"axis":null},"y":{"field":"y","type":"quantitative","scale":{"domain":[956,28],"nice":false},"axis":null}}},
{"data":{"name":"cR"},"mark":{"type":"rect","fill":"#fb8072","stroke":"#111","strokeWidth":1,"width":5.6,"height":2.7},"encoding":{"x":{"field":"x","type":"quantitative","scale":{"domain":[20,948],"nice":false},"axis":null},"y":{"field":"y","type":"quantitative","scale":{"domain":[956,28],"nice":false},"axis":null}}},
{"data":{"name":"cr"},"mark":{"type":"rect","fill":"#fb8072","stroke":"#111","strokeWidth":1,"width":2.7,"height":5.6},"encoding":{"x":{"field":"x","type":"quantitative","scale":{"domain":[20,948],"nice":false},"axis":null},"y":{"field":"y","type":"quantitative","scale":{"domain":[956,28],"nice":false},"axis":null}}}
]},
{"width":309,"height":309,"title":{"text":"(d) t=140000","offset":9,"dx":2},"resolve":{"scale":{"x":"independent","y":"independent"}},"layer":[
{"data":{"name":"dRr"},"mark":{"type":"rule","stroke":"#111","strokeWidth":3.1},"encoding":{"x":{"field":"a","type":"quantitative","scale":{"domain":[0,100],"nice":false},"axis":null},"x2":{"field":"b"},"y":{"field":"y","type":"quantitative","scale":{"domain":[99.5,-0.5],"nice":false},"axis":null}}},
{"data":{"name":"dRr"},"mark":{"type":"rule","stroke":"#fb8072","strokeWidth":2.1,"strokeDash":[5.2,0.98]},"encoding":{"x":{"field":"a","type":"quantitative","scale":{"domain":[0,100],"nice":false},"axis":null},"x2":{"field":"b"},"y":{"field":"y","type":"quantitative","scale":{"domain":[99.5,-0.5],"nice":false},"axis":null}}},
{"data":{"name":"dH"},"mark":{"type":"rect","fill":"white","width":5.4,"height":2.6},"encoding":{"x":{"field":"x","type":"quantitative","scale":{"domain":[65,993],"nice":false},"axis":null},"y":{"field":"y","type":"quantitative","scale":{"domain":[956,28],"nice":false},"axis":null}}}
]}
]}
